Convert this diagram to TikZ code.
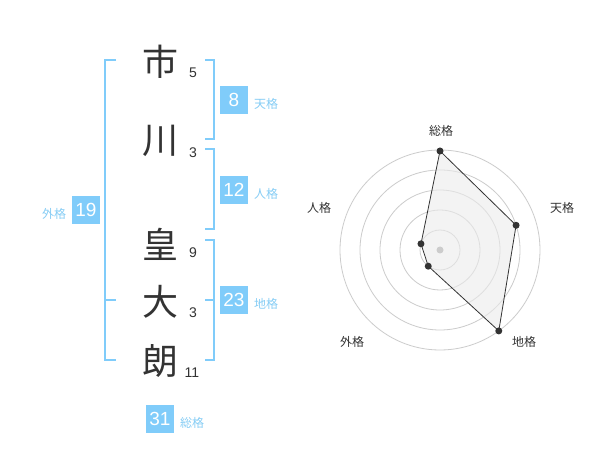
\documentclass[tikz,border=0pt]{standalone}
\usepackage{fontspec}
\usetikzlibrary{calc}
\setmainfont{Liberation Sans}
\newfontfamily\jp{Noto Sans CJK JP}
\definecolor{skyb}{HTML}{80CCFA}
\definecolor{labb}{HTML}{86CDF5}
\definecolor{ink}{HTML}{333333}
\definecolor{ring}{HTML}{CCCCCC}
\definecolor{area}{HTML}{EBEBEB}
\tikzset{
  kanji/.style={font=\jp\fontsize{36}{36}\selectfont, text=ink, inner sep=0pt},
  num/.style={font=\fontsize{14}{14}\selectfont, text=ink, inner sep=0pt},
  br/.style={draw=skyb, line width=2pt},
  box/.style={fill=skyb, text=white, minimum size=28pt, inner sep=0pt, font=\fontsize{19}{19}\selectfont},
  lab/.style={text=labb, font=\jp\fontsize{12}{12}\selectfont, inner sep=0pt},
  rlab/.style={text=ink, font=\jp\fontsize{12}{12}\selectfont, inner sep=0pt},
  ringc/.style={draw=ring, line width=0.8pt},
  dot/.style={circle, fill=ink, minimum size=7pt, inner sep=0pt},
}
\begin{document}
\begin{tikzpicture}[x=1pt,y=-1pt]
\useasboundingbox[fill=white] (0,0) rectangle (600,470);
% kanji
\node[kanji] (k1) at (160,62) {市};
\node[kanji] (k2) at (160,141) {川};
\node[kanji] (k3) at (160,244) {皇};
\node[kanji] (k4) at (160,302) {大};
\node[kanji] (k5) at (160,361) {朗};
% stroke counts
\node[num] (n1) at (193,73) {5};
\node[num] (n2) at (193,153) {3};
\node[num] (n3) at (193,253) {9};
\node[num] (n4) at (193,313) {3};
\node[num] (n5) at (192,373) {11};
% brackets
\draw[br] (116,60) -- (105,60) -- (105,360) -- (116,360);
\draw[br] (105,300) -- (116,300);
\draw[br] (205,60) -- (214,60) -- (214,139) -- (205,139);
\draw[br] (205,149) -- (214,149) -- (214,229) -- (205,229);
\draw[br] (205,240) -- (214,240) -- (214,360) -- (205,360);
\draw[br] (205,300) -- (214,300);
% boxes
\node[box] (b8) at (234,100) {8};
\node[lab] (l8) at (266,104) {天格};
\node[box] (b12) at (234,190) {12};
\node[lab] (l12) at (266,194) {人格};
\node[box] (b19) at (86,210) {19};
\node[lab] (l19) at (54,214) {外格};
\node[box] (b23) at (234,300) {23};
\node[lab] (l23) at (266,304) {地格};
\node[box] (b31) at (160,419) {31};
\node[lab] (l31) at (192,423) {総格};
% radar
\coordinate (c) at (440,250);
\foreach \r in {20,40,60,80,100} \draw[ringc] (c) circle (\r);
\coordinate (pS) at ($(c)+(-90:99)$);
\coordinate (pT) at ($(c)+(-18:80)$);
\coordinate (pC) at ($(c)+(54:100)$);
\coordinate (pG) at ($(c)+(126:20)$);
\coordinate (pJ) at ($(c)+(198:20)$);
\fill[area, opacity=0.6] (pS) -- (pT) -- (pC) -- (pG) -- (pJ) -- cycle;
\fill[ring] (c) circle (3.5);
\draw[ink, line width=0.8pt] (pS) -- (pT) -- (pC) -- (pG) -- (pJ) -- cycle;
\foreach \p in {pS,pT,pC,pG,pJ} \node[dot] at (\p) {};
\node[rlab] (rS) at (441,131) {総格};
\node[rlab] (rT) at (562,208) {天格};
\node[rlab] (rC) at (524,342) {地格};
\node[rlab] (rG) at (352,342) {外格};
\node[rlab] (rJ) at (319,208) {人格};
\end{tikzpicture}
\end{document}
